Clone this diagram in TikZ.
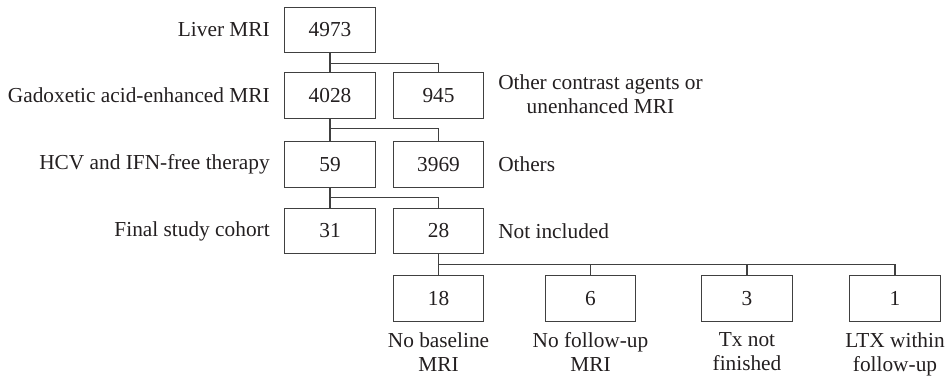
\documentclass[tikz,border=0pt]{standalone}
\usepackage{fontspec}
\setmainfont{Liberation Serif}
\usepackage{tikz}
\usetikzlibrary{positioning}
\definecolor{boxline}{RGB}{64, 64, 64}
\definecolor{labeltext}{RGB}{35, 31, 32}

\begin{document}
\begin{tikzpicture}[x=0.75pt, y=-0.75pt,
    font=\fontsize{16}{18}\selectfont, text=labeltext,
    countbox/.style={draw=boxline, line width=0.8pt, minimum width=68pt, minimum height=34pt, inner sep=0pt},
    leftlabel/.style={anchor=east, inner sep=0pt},
    rightlabel/.style={anchor=west, inner sep=0pt, align=center},
    underlabel/.style={below=8pt of #1, inner sep=0pt, align=center},
    link/.style={draw=boxline, line width=0.8pt}]
          \useasboundingbox (0,0) rectangle (945,379);
          % main column
          \node[countbox] (liver) at (330,30)    {4973};
          \node[countbox] (gad)   at (330,95.5)  {4028};
          \node[countbox] (hcv)   at (330,164.5) {59};
          \node[countbox] (final) at (330,231)   {31};
          % side column
          \node[countbox] (other)  at (438.5,95.5)  {945};
          \node[countbox] (rest)   at (438.5,164.5) {3969};
          \node[countbox] (notinc) at (438.5,231)   {28};
          % exclusion reasons
          \node[countbox] (nobase) at (438.5,298.5) {18};
          \node[countbox] (nofup)  at (590.5,298.5) {6};
          \node[countbox] (txnot)  at (747,298.5)   {3};
          \node[countbox] (ltx)    at (895,298.5)   {1};
          % labels
          \node[leftlabel] (liverlbl) at (270,30)    {Liver MRI};
          \node[leftlabel] (gadlbl)   at (270,95.5)  {Gadoxetic acid-enhanced MRI};
          \node[leftlabel] (hcvlbl)   at (270,164.5) {HCV and IFN-free therapy};
          \node[leftlabel] (finallbl) at (270,231)   {Final study cohort};
          \node[rightlabel] (otherlbl)  at (498,94)    {Other contrast agents or\\unenhanced MRI};
          \node[rightlabel] (restlbl)   at (498,164.5) {Others};
          \node[rightlabel] (notinclbl) at (498,231)   {Not included};
          \node[underlabel=nobase] (nobaselbl) {No baseline\\MRI};
          \node[underlabel=nofup]  (nofuplbl)  {No follow-up\\MRI};
          \node[underlabel=txnot]  (txnotlbl)  {Tx not\\finished};
          \node[underlabel=ltx]    (ltxlbl)    {LTX within\\follow-up};
          % connectors
          \draw[link] (liver.south) -- (gad.north);
          \draw[link] (liver.south) ++(0,10) -| (other.north);
          \draw[link] (gad.south) -- (hcv.north);
          \draw[link] (gad.south) ++(0,10) -| (rest.north);
          \draw[link] (hcv.south) -- (final.north);
          \draw[link] (hcv.south) ++(0,10) -| (notinc.north);
          \draw[link] (notinc.south) -- (nobase.north);
          \draw[link] (notinc.south) ++(0,10) -| (nofup.north);
          \draw[link] (notinc.south) ++(0,10) -| (txnot.north);
          \draw[link] (notinc.south) ++(0,10) -| (ltx.north);
        \end{tikzpicture}
\end{document}
